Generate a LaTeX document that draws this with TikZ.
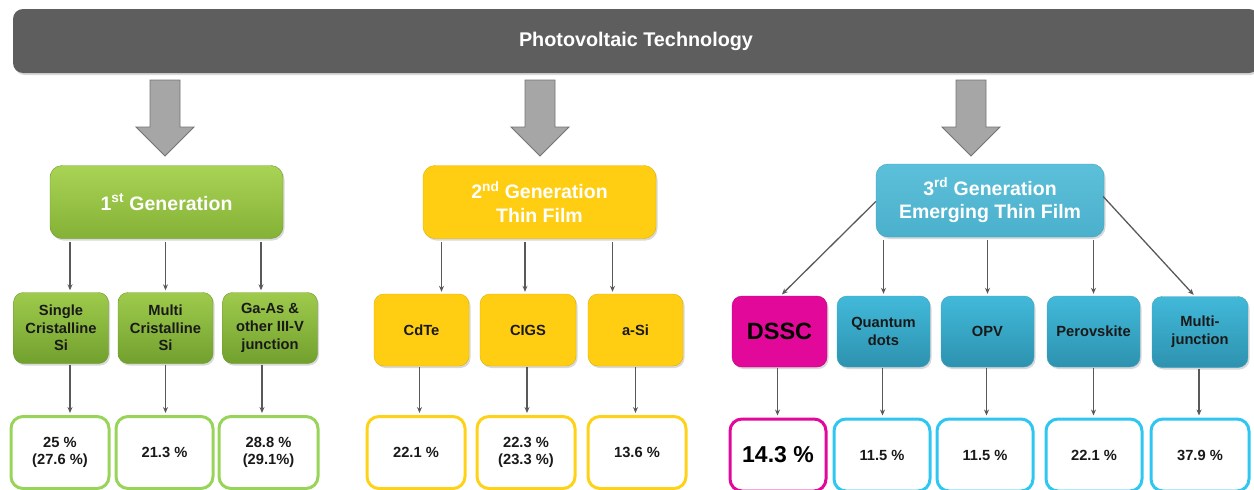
\documentclass[tikz,border=0pt]{standalone}
\usepackage{fontspec}
\setmainfont{Liberation Sans}
\usetikzlibrary{shadows,arrows.meta,calc}

\definecolor{barGray}{HTML}{5E5E5E}
\definecolor{arrowGray}{HTML}{A6A6A6}
\definecolor{lineGray}{HTML}{595959}
\definecolor{greenTop}{HTML}{A9D355}
\definecolor{greenBot}{HTML}{84B236}
\definecolor{greenSubTop}{HTML}{9ECB4C}
\definecolor{greenSubBot}{HTML}{72A02E}
\definecolor{greenLine}{HTML}{6F992C}
\definecolor{greenRes}{HTML}{98D45A}
\definecolor{yellowTop}{HTML}{FFCE12}
\definecolor{yellowBot}{HTML}{F9C100}
\definecolor{yellowLine}{HTML}{E2AE00}
\definecolor{yellowRes}{HTML}{FFD21A}
\definecolor{blueTop}{HTML}{5DC0DA}
\definecolor{blueBot}{HTML}{4BB0CC}
\definecolor{blueLine}{HTML}{3FA2BE}
\definecolor{blueSubTop}{HTML}{42B9DA}
\definecolor{blueSubBot}{HTML}{2D92AF}
\definecolor{blueRes}{HTML}{30C6F2}
\definecolor{dsscPink}{HTML}{E2089A}
\definecolor{dsscLine}{HTML}{BF0083}

\newcommand\titletxt{\fontsize{19.8}{23}\selectfont\bfseries}
\newcommand\gentxt{\fontsize{19.5}{23.5}\selectfont\bfseries}
\newcommand\subtxt{\fontsize{14.7}{17.7}\selectfont\bfseries}
\newcommand\bigtxt{\fontsize{23.5}{28}\selectfont\bfseries}
\newcommand\bigrestxt{\fontsize{23}{26}\selectfont\bfseries}

\tikzset{
  shade/.style={drop shadow={shadow xshift=1.5pt, shadow yshift=-2pt, opacity=0.3}},
  genbox/.style={shade, rounded corners=12pt, align=center, text=white, font=\gentxt,
    minimum height=73pt, inner sep=2pt},
  subbox/.style={shade, rounded corners=10pt, align=center, text=black!90, font=\subtxt,
    minimum width=95pt, minimum height=71pt, inner sep=1pt},
  resbox/.style={rounded corners=12pt, align=center, fill=white, line width=3pt, text=black!90,
    font=\subtxt, minimum width=97pt, minimum height=72pt, inner sep=1pt},
  conn/.style={draw=lineGray, line width=1.3pt, -{Stealth[length=6pt,width=5pt]},
    shorten <=3pt, shorten >=2pt}
}

\begin{document}
\begin{tikzpicture}[x=1pt, y=-1pt]
  \useasboundingbox (0,0) rectangle (1254,490);
  \clip (0,0) rectangle (1254,490);

  % top bar
  \node[shade, fill=barGray, rounded corners=10pt, minimum width=1246pt, minimum height=64pt,
    text=white, font=\titletxt] (title) at (636,41) {Photovoltaic Technology};

  % block arrows
  \foreach \x in {165,540,971}
    \filldraw[fill=arrowGray, draw=black!55, line width=0.8pt]
      (\x-15,80) -- (\x+15,80) -- (\x+15,127) -- (\x+29,127) -- (\x,156)
      -- (\x-29,127) -- (\x-15,127) -- cycle;

  % generations
  \node[genbox, top color=greenTop, bottom color=greenBot, draw=greenLine,
    minimum width=233pt] (gen1) at (166.5,202) {1\textsuperscript{st} Generation};
  \node[genbox, fill=yellowTop, draw=yellowLine,
    minimum width=233pt] (gen2) at (539.5,202) {2\textsuperscript{nd} Generation\\Thin Film};
  \node[genbox, top color=blueTop, bottom color=blueBot, draw=blueLine,
    minimum width=228pt] (gen3) at (990,200.5) {3\textsuperscript{rd} Generation\\Emerging Thin Film};

  % 1st generation
  \tikzset{greensub/.style={subbox, top color=greenSubTop, bottom color=greenSubBot, draw=greenLine}}
  \node[greensub] (single) at (61,328) {Single\\Cristalline\\Si};
  \node[greensub] (multi) at (165.5,328) {Multi\\Cristalline\\Si};
  \node[greensub] (gaas) at (270,328) {Ga-As \&\\other III-V\\junction};
  \node[resbox, draw=greenRes, minimum width=98pt] (rsingle) at (60,452.5) {25 \%\\(27.6 \%)};
  \node[resbox, draw=greenRes] (rmulti) at (164.5,452.5) {21.3 \%};
  \node[resbox, draw=greenRes, minimum width=99pt] (rgaas) at (268.5,452.5) {28.8 \%\\(29.1\%)};

  % 2nd generation
  \tikzset{yellowsub/.style={subbox, fill=yellowTop, draw=yellowLine, minimum height=72pt}}
  \node[yellowsub] (cdte) at (421.5,330) {CdTe};
  \node[yellowsub, minimum width=96pt] (cigs) at (528,330) {CIGS};
  \node[yellowsub] (asi) at (635.5,330) {a-Si};
  \node[resbox, draw=yellowRes, minimum width=98pt] (rcdte) at (416,452.5) {22.1 \%};
  \node[resbox, draw=yellowRes, minimum width=98pt] (rcigs) at (526,452.5) {22.3 \%\\(23.3 \%)};
  \node[resbox, draw=yellowRes, minimum width=98pt] (rasi) at (637,452.5) {13.6 \%};

  % 3rd generation
  \tikzset{bluesub/.style={subbox, top color=blueSubTop, bottom color=blueSubBot, draw=blueLine,
    minimum width=93pt}}
  \node[subbox, fill=dsscPink, draw=dsscLine, font=\bigtxt, text=black] (dssc) at (779.5,331.5) {DSSC};
  \node[bluesub] (quantum) at (883.5,331.5) {Quantum\\dots};
  \node[bluesub] (opv) at (987.5,331.5) {OPV};
  \node[bluesub] (perov) at (1093.5,331.5) {Perovskite};
  \node[bluesub, minimum width=96pt] (multij) at (1200,332) {Multi-\\junction};
  \node[resbox, draw=dsscPink, font=\bigrestxt, text=black, minimum width=96pt] (rdssc) at (778,455) {14.3 \%};
  \node[resbox, draw=blueRes, minimum width=96pt] (rquantum) at (882,455) {11.5 \%};
  \node[resbox, draw=blueRes, minimum width=96pt] (ropv) at (985,455) {11.5 \%};
  \node[resbox, draw=blueRes, minimum width=96pt] (rperov) at (1094,455) {22.1 \%};
  \node[resbox, draw=blueRes, minimum width=98pt] (rmultij) at (1200,455) {37.9 \%};

  % connectors generation -> type
  \foreach \sub/\dx in {single/9, multi/0, gaas/-9}
    \draw[conn] ($(\sub.north |- gen1.south)+(\dx,0)$) -- ($(\sub.north)+(\dx,0)$);
  \foreach \sub/\dx in {cdte/20, cigs/-3, asi/-23}
    \draw[conn] ($(\sub.north |- gen2.south)+(\dx,0)$) -- ($(\sub.north)+(\dx,0)$);
  \foreach \sub in {quantum, opv, perov}
    \draw[conn] (\sub.north |- gen3.south) -- (\sub.north);
  \draw[conn, shorten <=0pt] ($(gen3.west)+(0,1)$) -- ($(dssc.north)+(1,0)$);
  \draw[conn, shorten <=0pt] ($(gen3.east)+(-1,-4)$) -- ($(multij.north)+(-5,0)$);

  % connectors type -> efficiency
  \foreach \sub/\res/\dx in {single/rsingle/9, multi/rmulti/0, gaas/rgaas/-8,
      cdte/rcdte/-2, cigs/rcigs/-1, asi/rasi/0, dssc/rdssc/-2, quantum/rquantum/-1,
      opv/ropv/-1, perov/rperov/0, multij/rmultij/-1}
    \draw[conn, shorten <=1pt] ($(\sub.south)+(\dx,0)$) -- ($(\res.north -| \sub.south)+(\dx,0)$);
\end{tikzpicture}
\end{document}
